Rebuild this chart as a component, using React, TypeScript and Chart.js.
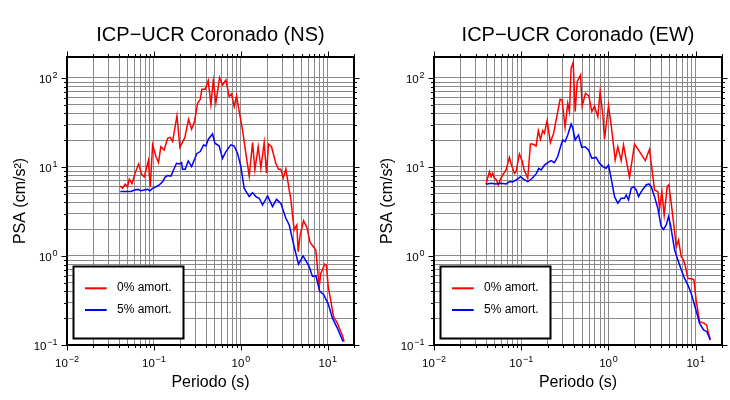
import React, { useEffect, useRef } from "react";
import { Chart, registerables } from "chart.js";

Chart.register(...registerables);

// ---------- data (period in s, PSA in cm/s^2) ----------
const nsPeriod0 = [0.041,0.0436,0.0468,0.0498,0.052,0.0559,0.0606,0.0667,0.072,0.0774,0.0862,0.0907,0.0965,0.1055,0.113,0.12,0.131,0.1435,0.154,0.164,0.184,0.199,0.227,0.25,0.271,0.291,0.318,0.341,0.356,0.389,0.421,0.452,0.481,0.516,0.569,0.615,0.672,0.734,0.781,0.838,0.892,0.957,1.045,1.141,1.247,1.362,1.449,1.582,1.698,1.854,1.972,2.08,2.25,2.52,2.71,2.88,3.07,3.29,3.6,3.76,4.1,4.4,4.56,4.81,5.25,5.74,6.27,7.28,7.95,8.31,9.23,9.64,10.1,10.8,11.6,12.9,14.1,14.7,15.4];
const nsPsa0 = [6.1,5.8,6.4,6.0,7.3,6.5,8.5,10.8,8.3,7.7,11.8,6.0,17.7,13.1,11.2,16.9,15.5,21.0,21.5,19.3,37.7,16.6,21.5,34.3,26.5,31.5,51.9,57.6,74.6,74.6,93.3,50.6,93.3,52.8,100.8,83.4,95.1,61.7,66.1,47.6,62.8,41.8,26.0,14.2,7.9,18.8,9.3,16.9,9.7,18.8,8.5,18.1,16.9,11.0,9.4,9.4,7.5,9.5,5.5,4.3,1.96,2.23,1.12,1.72,2.49,2.1,1.41,1.17,0.45,0.64,0.81,0.79,0.45,0.32,0.21,0.175,0.141,0.129,0.109];

const nsPeriod5 = [0.041,0.0475,0.0546,0.0596,0.0661,0.0709,0.0774,0.0845,0.0897,0.0965,0.1055,0.1152,0.1258,0.1337,0.1435,0.157,0.171,0.182,0.195,0.208,0.213,0.229,0.248,0.271,0.312,0.341,0.372,0.396,0.421,0.472,0.503,0.563,0.615,0.672,0.767,0.838,0.916,1.0,1.092,1.247,1.362,1.487,1.625,1.774,2.03,2.31,2.57,2.88,3.29,3.6,4.1,4.6,5.2,6.1,6.66,7.28,8.09,8.92,10.1,11.3,12.9,15.0];
const nsPsa5 = [5.3,5.3,5.3,5.5,5.6,5.4,5.5,5.6,5.4,5.75,6.0,6.3,6.8,7.65,8.0,7.9,9.6,11.0,10.8,11.2,9.4,9.4,11.7,10.1,14.2,14.9,17.7,17.2,20.4,23.5,18.5,17.2,12.5,14.9,17.7,17.2,14.2,10.1,5.75,4.65,5.15,4.65,4.45,3.74,4.72,3.58,4.33,3.9,2.65,2.23,1.27,0.81,1.0,0.76,0.59,0.6,0.4,0.37,0.29,0.2,0.154,0.109];

const ewPeriod0 = [0.0395,0.0432,0.0451,0.0471,0.0492,0.0514,0.0547,0.0577,0.0614,0.067,0.0731,0.0778,0.0835,0.0873,0.0953,0.102,0.1087,0.1188,0.1274,0.1355,0.148,0.157,0.166,0.1766,0.1845,0.198,0.216,0.236,0.251,0.279,0.294,0.318,0.341,0.357,0.373,0.394,0.415,0.438,0.478,0.499,0.545,0.595,0.644,0.691,0.755,0.802,0.861,0.9,1.0,1.073,1.193,1.279,1.397,1.486,1.595,1.742,1.988,2.27,2.64,2.95,3.37,3.68,3.85,4.09,4.35,4.71,4.92,5.24,5.72,5.97,6.35,6.82,7.25,7.64,8.13,9.12,9.53,10.1,11.07,12.6,13.4,13.9,14.7];
const ewPsa0 = [6.44,8.86,7.78,8.49,7.46,7.27,6.28,7.27,8.13,9.25,12.8,10.3,8.49,8.86,14.0,11.8,9.1,7.46,18.1,18.1,17.2,25.6,20.5,25.6,23.9,33.2,18.8,24.3,33.7,57.6,56.6,27.9,51.9,41.9,128,150,41.9,91,108,48.5,67.3,62.8,41.9,48.5,36.8,70.2,38.4,20.5,48.5,29.6,12.0,16.9,11.8,17.7,12.0,7.66,18.1,14.9,11.8,15.8,5.52,5.28,3.43,5.28,2.89,6.01,6.28,3.9,1.88,1.27,1.51,0.98,0.9,0.75,0.56,0.55,0.54,0.32,0.183,0.175,0.166,0.138,0.116];

const ewPeriod5 = [0.0395,0.0451,0.0514,0.0588,0.067,0.0731,0.0798,0.0873,0.098,0.107,0.1188,0.13,0.148,0.159,0.169,0.1845,0.201,0.22,0.24,0.262,0.286,0.299,0.318,0.341,0.373,0.39,0.415,0.453,0.494,0.54,0.59,0.644,0.722,0.788,0.861,0.94,1.0,1.073,1.172,1.279,1.397,1.526,1.595,1.696,1.819,1.953,2.08,2.21,2.37,2.7,2.9,3.09,3.37,3.68,4.02,4.27,4.59,4.88,5.14,5.72,6.24,6.82,7.45,8.13,8.88,9.7,10.3,11.07,12.3,13.4,14.7];
const ewPsa5 = [6.38,6.55,6.44,6.55,6.44,6.84,6.84,7.14,7.78,7.27,6.84,7.27,8.35,9.66,9.25,10.5,11.2,11.8,11.2,13.1,17.7,20.1,19.3,22.9,30.4,27.2,20.1,22.9,16.6,16.9,15.5,12.5,12.8,11.0,10.1,9.66,10.5,7.46,4.64,3.91,4.45,4.45,4.85,4.26,5.76,6.0,5.52,4.64,5.28,6.28,6.44,6.0,4.64,3.43,2.14,1.99,2.23,2.77,2.23,1.17,0.9,0.7,0.56,0.47,0.38,0.28,0.227,0.175,0.148,0.141,0.114];

// ---------- axes / labels ----------
const X_MIN = 0.01;
const X_MAX = 20;
const Y_MIN = 0.1;
const Y_MAX = 172;
const xLabelValues = [0.01, 0.1, 1, 10];
const xLabelExponents = ["\u22122", "\u22121", "0", "1"];
const yLabelValues = [0.1, 1, 10, 100];
const yLabelExponents = ["\u22121", "0", "1", "2"];
const seriesLabels = ["0% amort.", "5% amort."];
const seriesColors = ["#ff0000", "#0000ff"];
const xTitle = "Periodo (s)";
const yTitle = "PSA (cm/s\u00b2)";
const titleNS = "ICP\u2212UCR Coronado (NS)";
const titleEW = "ICP\u2212UCR Coronado (EW)";

const FONT = '"Liberation Sans", Arial, Helvetica, sans-serif';
const GRID = "#8a8a8a";

const isDecade = (v: number) => Math.abs(Math.log10(v) - Math.round(Math.log10(v))) < 1e-6;

function logTicks(min: number, max: number) {
  const out: number[] = [];
  for (let e = Math.floor(Math.log10(min)); e <= Math.ceil(Math.log10(max)); e++) {
    for (let m = 1; m <= 9; m++) {
      const v = parseFloat((m * Math.pow(10, e)).toPrecision(6));
      if (v >= min * (1 - 1e-9) && v <= max * (1 + 1e-9)) out.push(v);
    }
  }
  return out;
}

function drawPow(ctx: CanvasRenderingContext2D, exp: string, x: number, y: number, align: "center" | "right") {
  ctx.font = `11.5px ${FONT}`;
  const w1 = ctx.measureText("10").width;
  ctx.font = `9px ${FONT}`;
  const w2 = ctx.measureText(exp).width;
  const gap = 0.8;
  const total = w1 + gap + w2;
  const x0 = align === "center" ? x - total / 2 : x - total;
  ctx.textAlign = "left";
  ctx.textBaseline = "alphabetic";
  ctx.font = `11.5px ${FONT}`;
  ctx.fillText("10", x0, y);
  ctx.font = `9px ${FONT}`;
  ctx.fillText(exp, x0 + w1 + gap, y - 4.8);
}

const gmtPlugin = {
  id: "gmtFrame",
  afterDraw(chart: any, _args: any, opts: any) {
    const { ctx, chartArea: a, scales } = chart;
    const x = scales.x;
    const y = scales.y;
    ctx.save();
    ctx.strokeStyle = "#000";
    ctx.fillStyle = "#000";
    ctx.lineWidth = 1;
    // tick marks on all four sides
    ctx.beginPath();
    for (const t of x.ticks) {
      const px = Math.round(x.getPixelForValue(t.value)) + 0.5;
      const len = isDecade(t.value) ? 5.5 : 3;
      ctx.moveTo(px, a.bottom);
      ctx.lineTo(px, a.bottom + len);
      ctx.moveTo(px, a.top);
      ctx.lineTo(px, a.top - len);
    }
    for (const t of y.ticks) {
      const py = Math.round(y.getPixelForValue(t.value)) + 0.5;
      const len = isDecade(t.value) ? 5.5 : 3;
      ctx.moveTo(a.left, py);
      ctx.lineTo(a.left - len, py);
      ctx.moveTo(a.right, py);
      ctx.lineTo(a.right + len, py);
    }
    ctx.stroke();
    // frame
    ctx.lineWidth = 2;
    ctx.strokeRect(a.left, a.top, a.right - a.left, a.bottom - a.top);

    // tick labels
    xLabelValues.forEach((v, i) => {
      drawPow(ctx, xLabelExponents[i], x.getPixelForValue(v), a.bottom + 22, "center");
    });
    yLabelValues.forEach((v, i) => {
      drawPow(ctx, yLabelExponents[i], a.left - 9.5, y.getPixelForValue(v) + 4.6, "right");
    });

    // axis titles
    ctx.font = `16px ${FONT}`;
    ctx.textAlign = "center";
    ctx.textBaseline = "alphabetic";
    ctx.fillText(xTitle, (a.left + a.right) / 2, a.bottom + 42);
    ctx.save();
    ctx.translate(a.left - 42, (a.top + a.bottom) / 2);
    ctx.rotate(-Math.PI / 2);
    ctx.fillText(yTitle, 0, 0);
    ctx.restore();

    // chart title
    ctx.font = `20px ${FONT}`;
    ctx.fillText(opts.title, (a.left + a.right) / 2, 41);

    // legend box
    const bx = a.left + 6.5;
    const by = a.bottom - 78.5;
    ctx.fillStyle = "#fff";
    ctx.fillRect(bx, by, 110, 72);
    ctx.lineWidth = 2;
    ctx.strokeStyle = "#000";
    ctx.strokeRect(bx, by, 110, 72);
    seriesLabels.forEach((lab, i) => {
      const ly = a.bottom - 56.7 + i * 21.7;
      ctx.strokeStyle = seriesColors[i];
      ctx.lineWidth = 2;
      ctx.beginPath();
      ctx.moveTo(a.left + 18, ly);
      ctx.lineTo(a.left + 39.7, ly);
      ctx.stroke();
      ctx.fillStyle = "#000";
      ctx.font = `12px ${FONT}`;
      ctx.textAlign = "left";
      ctx.fillText(lab, a.left + 50, ly + 2.5);
    });
    ctx.restore();
  },
};

type PanelProps = {
  title: string;
  t0: number[];
  a0: number[];
  t5: number[];
  a5: number[];
  left: number;
  width: number;
  padRight: number;
};

function PsaPanel(p: PanelProps) {
  const ref = useRef<HTMLCanvasElement>(null);
  useEffect(() => {
    const scaleCommon = (min: number, max: number) => ({
      type: "logarithmic" as const,
      min,
      max,
      afterBuildTicks: (s: any) => {
        s.ticks = logTicks(s.min, s.max).map((v) => ({ value: v }));
      },
      ticks: { display: false },
      grid: { color: GRID, lineWidth: 1, drawTicks: false },
      border: { display: false },
      title: { display: false },
    });
    const chart = new Chart(ref.current as HTMLCanvasElement, {
      type: "line",
      data: {
        datasets: [
          {
            label: seriesLabels[0],
            data: p.t0.map((t, i) => ({ x: t, y: p.a0[i] })),
            borderColor: seriesColors[0],
            borderWidth: 1.5,
            pointRadius: 0,
            tension: 0,
            fill: false,
            order: 1,
          },
          {
            label: seriesLabels[1],
            data: p.t5.map((t, i) => ({ x: t, y: p.a5[i] })),
            borderColor: seriesColors[1],
            borderWidth: 1.5,
            pointRadius: 0,
            tension: 0,
            fill: false,
            order: 0,
          },
        ],
      },
      options: {
        responsive: false,
        maintainAspectRatio: false,
        animation: false,
        devicePixelRatio: 1,
        events: [],
        layout: { padding: { left: 67, right: p.padRight, top: 57, bottom: 55 } },
        plugins: {
          legend: { display: false },
          title: { display: false },
          tooltip: { enabled: false },
          gmtFrame: { title: p.title },
        } as any,
        scales: {
          x: scaleCommon(X_MIN, X_MAX) as any,
          y: scaleCommon(Y_MIN, Y_MAX) as any,
        },
      },
      plugins: [gmtPlugin as any],
    });
    return () => chart.destroy();
  }, []);
  return (
    <canvas
      ref={ref}
      width={p.width}
      height={400}
      style={{ position: "absolute", left: p.left, top: 0, width: p.width, height: 400, display: "block" }}
    />
  );
}

export default function App() {
  return (
    <div style={{ position: "absolute", left: 0, top: 0, width: 730, height: 400, background: "#fff" }}>
      <PsaPanel title={titleNS} t0={nsPeriod0} a0={nsPsa0} t5={nsPeriod5} a5={nsPsa5} left={0} width={365} padRight={11} />
      <PsaPanel title={titleEW} t0={ewPeriod0} a0={ewPsa0} t5={ewPeriod5} a5={ewPsa5} left={367} width={363} padRight={8} />
    </div>
  );
}
